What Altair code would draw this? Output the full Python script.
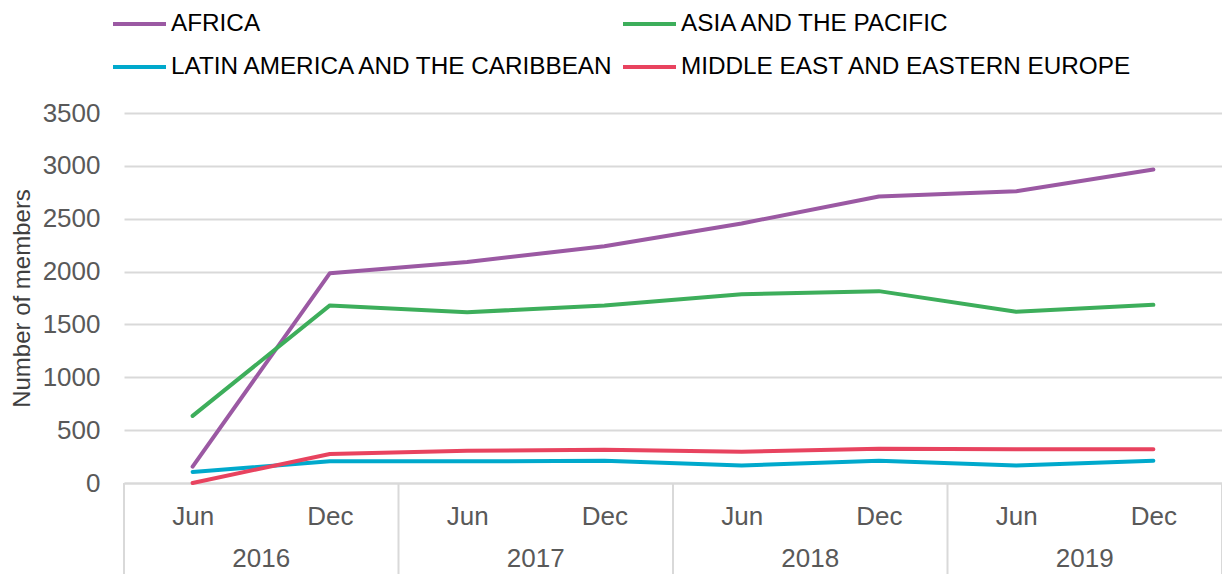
import altair as alt
import pandas as pd

# ---- data ----
months = ["Jun", "Dec", "Jun", "Dec", "Jun", "Dec", "Jun", "Dec"]
period_years = ["2016", "2016", "2017", "2017", "2018", "2018", "2019", "2019"]
years = ["2016", "2017", "2018", "2019"]

# legend order (filled column by column)
regions = [
    "AFRICA",
    "LATIN AMERICA AND THE CARIBBEAN",
    "ASIA AND THE PACIFIC",
    "MIDDLE EAST AND EASTERN EUROPE",
]
africa = [155, 1985, 2090, 2240, 2455, 2710, 2760, 2965]
latam = [105, 205, 205, 210, 165, 210, 165, 210]
asia = [635, 1680, 1615, 1680, 1785, 1815, 1620, 1685]
mideast = [0, 275, 305, 315, 295, 325, 320, 320]

colors = ["#9B59A3", "#00A9CC", "#3DAE5B", "#E8435F"]
y_ticks = [0, 500, 1000, 1500, 2000, 2500, 3000, 3500]

# ---- tables built from the lists ----
rows = []
for name, values in zip(regions, [africa, latam, asia, mideast]):
    for i, v in enumerate(values):
        rows.append({"region": name, "idx": i, "month": months[i],
                     "year": period_years[i], "members": v})
df = pd.DataFrame(rows)

year_df = pd.DataFrame({"year": years, "yidx": list(range(len(years)))})
sep_df = pd.DataFrame({"sidx": list(range(len(years) + 1))})

FONT = "Liberation Sans"
GRID = "#D9D9D9"
LABEL = "#595959"
n_periods = len(months)

month_expr = "[" + ",".join("'%s'" % m for m in months) + "][floor(datum.value)]"

x_scale = alt.Scale(domain=[0, n_periods], nice=False, zero=False)
x_axis = alt.Axis(values=[i + 0.5 for i in range(n_periods)],
                  labelExpr=month_expr, title=None, grid=False,
                  ticks=False, tickSize=0, domain=True,
                  domainColor=GRID, domainWidth=2,
                  labelFontSize=26, labelColor=LABEL, labelFont=FONT,
                  labelPadding=20, labelOverlap=False, labelFlush=False)

lines = alt.Chart(df).mark_line(
    strokeWidth=4, strokeCap="round", strokeJoin="round"
).transform_calculate(
    pos="datum.idx + 0.5"
).encode(
    x=alt.X("pos:Q", scale=x_scale, axis=x_axis),
    y=alt.Y("members:Q", scale=alt.Scale(domain=[0, 3500], nice=False),
            axis=alt.Axis(values=y_ticks, format="d", title="Number of members",
                          titleFontSize=24, titleFont=FONT, titleColor="#3F3F3F",
                          titleFontWeight="normal", titleAngle=270,
                          titleX=-102, titleY=185, titleAlign="center",
                          titleBaseline="middle",
                          grid=True, gridColor=GRID, gridWidth=2,
                          domain=False, ticks=False, tickSize=0,
                          labelFontSize=26, labelColor=LABEL, labelFont=FONT,
                          labelPadding=24)),
    color=alt.Color("region:N",
                    scale=alt.Scale(domain=regions, range=colors),
                    legend=alt.Legend(orient="none", legendX=-13, legendY=-104,
                                      columns=2, title=None, padding=0,
                                      symbolType="stroke", symbolSize=2809,
                                      symbolStrokeWidth=4, clipHeight=30,
                                      labelFontSize=24.3, labelFont=FONT,
                                      labelColor="#000000", labelOffset=3,
                                      labelLimit=1000, columnPadding=4,
                                      rowPadding=13, symbolOffset=0)),
)

year_text = alt.Chart(year_df).mark_text(
    fontSize=26, font=FONT, color=LABEL, align="center", baseline="middle"
).transform_calculate(
    pos="datum.yidx * 2 + 1"
).encode(
    x=alt.X("pos:Q", scale=x_scale, axis=x_axis),
    y=alt.value(446),
    text="year:N",
)

separators = alt.Chart(sep_df).mark_rule(
    color=GRID, strokeWidth=2
).transform_calculate(
    pos="datum.sidx * 2"
).encode(
    x=alt.X("pos:Q", scale=x_scale, axis=x_axis),
    y=alt.value(370),
    y2=alt.value(461),
)

chart = alt.layer(lines, separators, year_text).properties(
    width=1098,
    height=370,
    padding={"left": 116, "top": 105, "right": 0, "bottom": 91},
    autosize=alt.AutoSizeParams(type="none"),
).configure(
    font=FONT
).configure_view(
    stroke=None
)

chart.save("out.html", embed_options={"renderer": "svg", "actions": False})
